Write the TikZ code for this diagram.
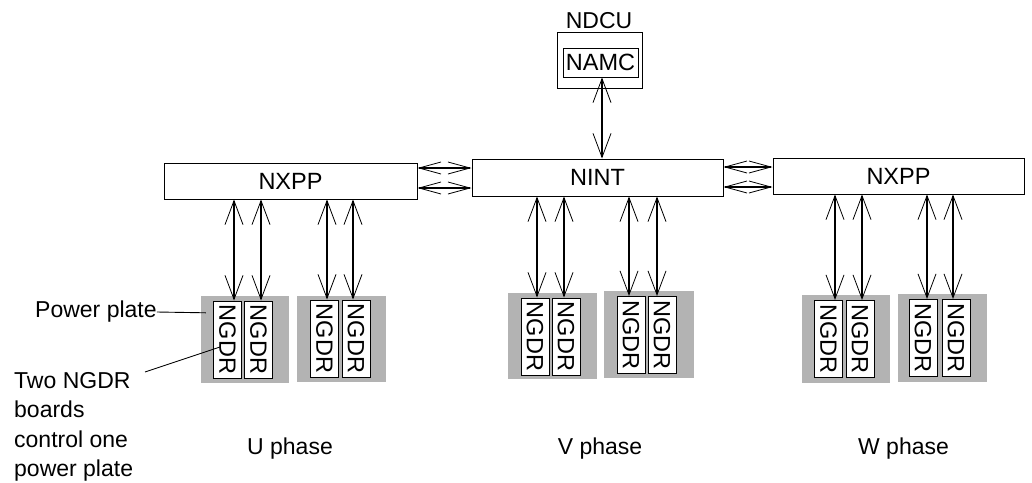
\documentclass[tikz,border=0pt]{standalone}
\usepackage{fontspec}
\setmainfont{Liberation Sans}
\usetikzlibrary{arrows.meta,calc}
\definecolor{plategray}{RGB}{179,179,179}
\tikzset{
 vtip/.tip={Straight Barb[length=24pt,width=18pt,line width=0.8pt]},
 htip/.tip={Straight Barb[length=22pt,width=12pt,line width=0.8pt]},
}
\begin{document}
\begin{tikzpicture}[x=1pt,y=-1pt,
 txt/.style={font=\fontsize{23}{29.5}\selectfont, inner sep=0pt},
 box/.style={draw, line width=1pt, inner sep=0pt, font=\fontsize{23.5}{28}\selectfont},
 plate/.style={fill=plategray, inner sep=0pt},
 ngdr/.style={box, fill=white, rotate=-90, minimum width=77pt, minimum height=28pt},
 varr/.style={line width=1.8pt, vtip-vtip},
 harr/.style={line width=1.8pt, htip-htip},
 callout/.style={line width=0.9pt}]
\useasboundingbox (0,0) rectangle (1032,482);

% top boxes
\node[box, minimum width=85pt, minimum height=56pt] (ndcu) at (599.5,60) {};
\node[txt] (ndculbl) at (599,20.5) {NDCU};
\node[box, minimum width=75pt, minimum height=29pt] (namc) at (600.5,62.5) {NAMC};
\node[box, minimum width=253pt, minimum height=36pt] (nxppL) at (290.5,181) {NXPP};
\node[box, minimum width=251pt, minimum height=37pt] (nint) at (597.5,177.5) {NINT};
\node[box, minimum width=251pt, minimum height=36pt] (nxppR) at (898.5,176) {NXPP};

% power plates
\node[plate, minimum width=88pt, minimum height=87pt] (u1) at (245,339.5) {};
\node[plate, minimum width=89pt, minimum height=86pt] (u2) at (341.5,339) {};
\node[plate, minimum width=89pt, minimum height=86pt] (v1) at (552.5,336) {};
\node[plate, minimum width=90pt, minimum height=87pt] (v2) at (649,334.5) {};
\node[plate, minimum width=88pt, minimum height=88pt] (w1) at (846,339) {};
\node[plate, minimum width=89pt, minimum height=88pt] (w2) at (942.5,338) {};

% NGDR boards
\node[ngdr] (u1a) at (227.5,339.5) {NGDR};
\node[ngdr] (u1b) at (258.5,339.5) {NGDR};
\node[ngdr] (u2a) at (324.5,338.5) {NGDR};
\node[ngdr] (u2b) at (356,338.5) {NGDR};
\node[ngdr] (v1a) at (535,336.5) {NGDR};
\node[ngdr] (v1b) at (566,336.5) {NGDR};
\node[ngdr] (v2a) at (631,335) {NGDR};
\node[ngdr] (v2b) at (662,335) {NGDR};
\node[ngdr] (w1a) at (828.5,339) {NGDR};
\node[ngdr] (w1b) at (860,339) {NGDR};
\node[ngdr] (w2a) at (923,338) {NGDR};
\node[ngdr] (w2b) at (956,338) {NGDR};

% vertical arrows
\foreach \n/\s/\t in {u1a/6.5/nxppL, u1b/2.5/nxppL, u2a/2.5/nxppL, u2b/-3/nxppL,
                      v1a/2/nint, v1b/-2/nint, v2a/-2/nint, v2b/-5/nint,
                      w1a/6.5/nxppR, w1b/2/nxppR, w2a/4/nxppR, w2b/-3/nxppR}
  \draw[varr] ([xshift=\s pt]\n.west) -- ([xshift=\s pt]\n.west |- \t.south);
\draw[varr] ([xshift=1.5pt]namc.south) -- ([xshift=1.5pt]namc.south |- nint.north);

% horizontal arrows
\draw[harr] ([yshift=13pt]nxppL.east) -- ([yshift=13pt]nxppL.east -| nint.west);
\draw[harr] ([yshift=-7pt]nxppL.east) -- ([yshift=-7pt]nxppL.east -| nint.west);
\draw[harr] ([yshift=10.5pt]nint.east) -- ([yshift=10.5pt]nint.east -| nxppR.west);
\draw[harr] ([yshift=-9.5pt]nint.east) -- ([yshift=-9.5pt]nint.east -| nxppR.west);

% callouts
\node[txt, anchor=west] (pp) at (35,312) {Power plate};
\draw[callout] (pp.east) -- ($(u1.north west)+(5,17)$);
\node[txt, anchor=north west, align=left] (two) at (14,372) {Two NGDR\\boards\\control one\\power plate};
\coordinate (twoend) at (145,372);
\draw[callout] (twoend) -- ($(u1a.center)+(-7.5,7.5)$);

% phase labels
\node[txt, anchor=base] (uph) at (290,454) {U phase};
\node[txt, anchor=base] (vph) at (600,454) {V phase};
\node[txt, anchor=base] (wph) at (903.5,454) {W phase};
\end{tikzpicture}
\end{document}
